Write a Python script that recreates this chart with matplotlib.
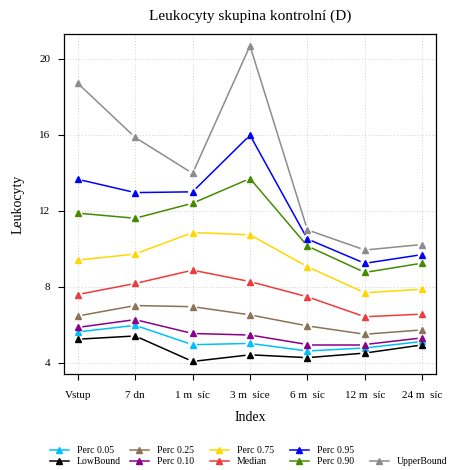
import numpy as np
import matplotlib
matplotlib.use("Agg")
import matplotlib.pyplot as plt
from matplotlib.lines import Line2D

plt.rcParams["font.family"] = ["Liberation Serif", "DejaVu Serif"]

categories = ["Vstup", "7 dn", "1 m  síc", "3 m  síce", "6 m  síc", "12 m  síc", "24 m  síc"]

low_bound = [5.25, 5.42, 4.08, 4.43, 4.28, 4.52, 4.95]
perc_05 = [5.63, 5.98, 4.96, 5.03, 4.63, 4.79, 5.13]
perc_10 = [5.87, 6.28, 5.55, 5.47, 4.97, 4.97, 5.32]
perc_25 = [6.47, 7.02, 6.96, 6.53, 5.95, 5.51, 5.74]
median = [7.6, 8.18, 8.88, 8.28, 7.48, 6.43, 6.57]
perc_75 = [9.41, 9.73, 10.86, 10.74, 9.06, 7.69, 7.88]
perc_90 = [11.88, 11.61, 12.4, 13.7, 10.15, 8.76, 9.25]
perc_95 = [13.66, 12.96, 13.0, 15.98, 10.52, 9.24, 9.7]
upper_bound = [18.71, 15.86, 13.97, 20.68, 11.0, 9.94, 10.23]

# legend layout: 5 columns of (top, bottom) entries, as in the R legend
series = [
    ("Perc 0.05", perc_05, "#00bfff"),
    ("LowBound", low_bound, "black"),
    ("Perc 0.25", perc_25, "#8b7355"),
    ("Perc 0.10", perc_10, "#8b008b"),
    ("Perc 0.75", perc_75, "#ffd700"),
    ("Median", median, "#ee3b3b"),
    ("Perc 0.95", perc_95, "#0000ff"),
    ("Perc 0.90", perc_90, "#458b00"),
    (None, None, None),
    ("UpperBound", upper_bound, "#8c8c8c"),
]

fig = plt.figure(figsize=(4.5, 4.7), dpi=100)
ax = fig.add_axes([64 / 450, 96 / 470, 372 / 450, 340 / 470])
x = np.arange(1, len(categories) + 1)
ax.set_xlim(0.76, 7.24)
ax.set_ylim(3.42, 21.3)

ax.set_xticks(x)
ax.set_xticklabels(categories, fontsize=8)
ax.set_yticks([4, 8, 12, 16, 20])
ax.tick_params(axis="y", labelsize=8, length=4, width=0.8, pad=6)
ax.tick_params(axis="x", length=4, width=0.8, pad=8)
ax.grid(True, color="#d3d3d3", linestyle=(0, (1, 2)), linewidth=0.7)
ax.set_axisbelow(True)
for s in ax.spines.values():
    s.set_linewidth(0.9)

ax.set_title("Leukocyty skupina kontrolní (D)", fontsize=11, pad=10)
ax.set_xlabel("Index", fontsize=10, labelpad=8)
ax.set_ylabel("Leukocyty", fontsize=10, labelpad=10)

# R type="b": line segments stop short of each point
gap = 4.5
handles = []
for label, vals, color in series:
    if label is None:
        handles.append(Line2D([], [], linestyle="none", label="blank"))
        continue
    pts = ax.transData.transform(np.column_stack([x, vals]))
    for p0, p1 in zip(pts[:-1], pts[1:]):
        d = p1 - p0
        n = np.hypot(*d)
        if n <= 2 * gap:
            continue
        u = d / n
        seg = ax.transData.inverted().transform([p0 + u * gap, p1 - u * gap])
        ax.plot(seg[:, 0], seg[:, 1], color=color, linewidth=1.1, solid_capstyle="butt")
    ax.plot(x, vals, linestyle="none", marker="^", markersize=4.5, color=color)
    handles.append(Line2D([], [], color=color, linewidth=1.1, marker="^",
                          markersize=4, label=label))

# one small legend per column, columns 80 px apart
for c in range(5):
    pair = handles[2 * c:2 * c + 2]
    leg = fig.legend(handles=pair, labels=[h.get_label() for h in pair],
                     loc="upper left",
                     bbox_to_anchor=((50 + 80 * c) / 450, 1 - 446 / 470),
                     frameon=False, fontsize=7, handlelength=1.95,
                     handletextpad=0.8, labelspacing=0.2, borderpad=0,
                     borderaxespad=0)
    for t in leg.get_texts():
        if t.get_text() == "blank":
            t.set_visible(False)

fig.savefig("out.png", dpi=100)
